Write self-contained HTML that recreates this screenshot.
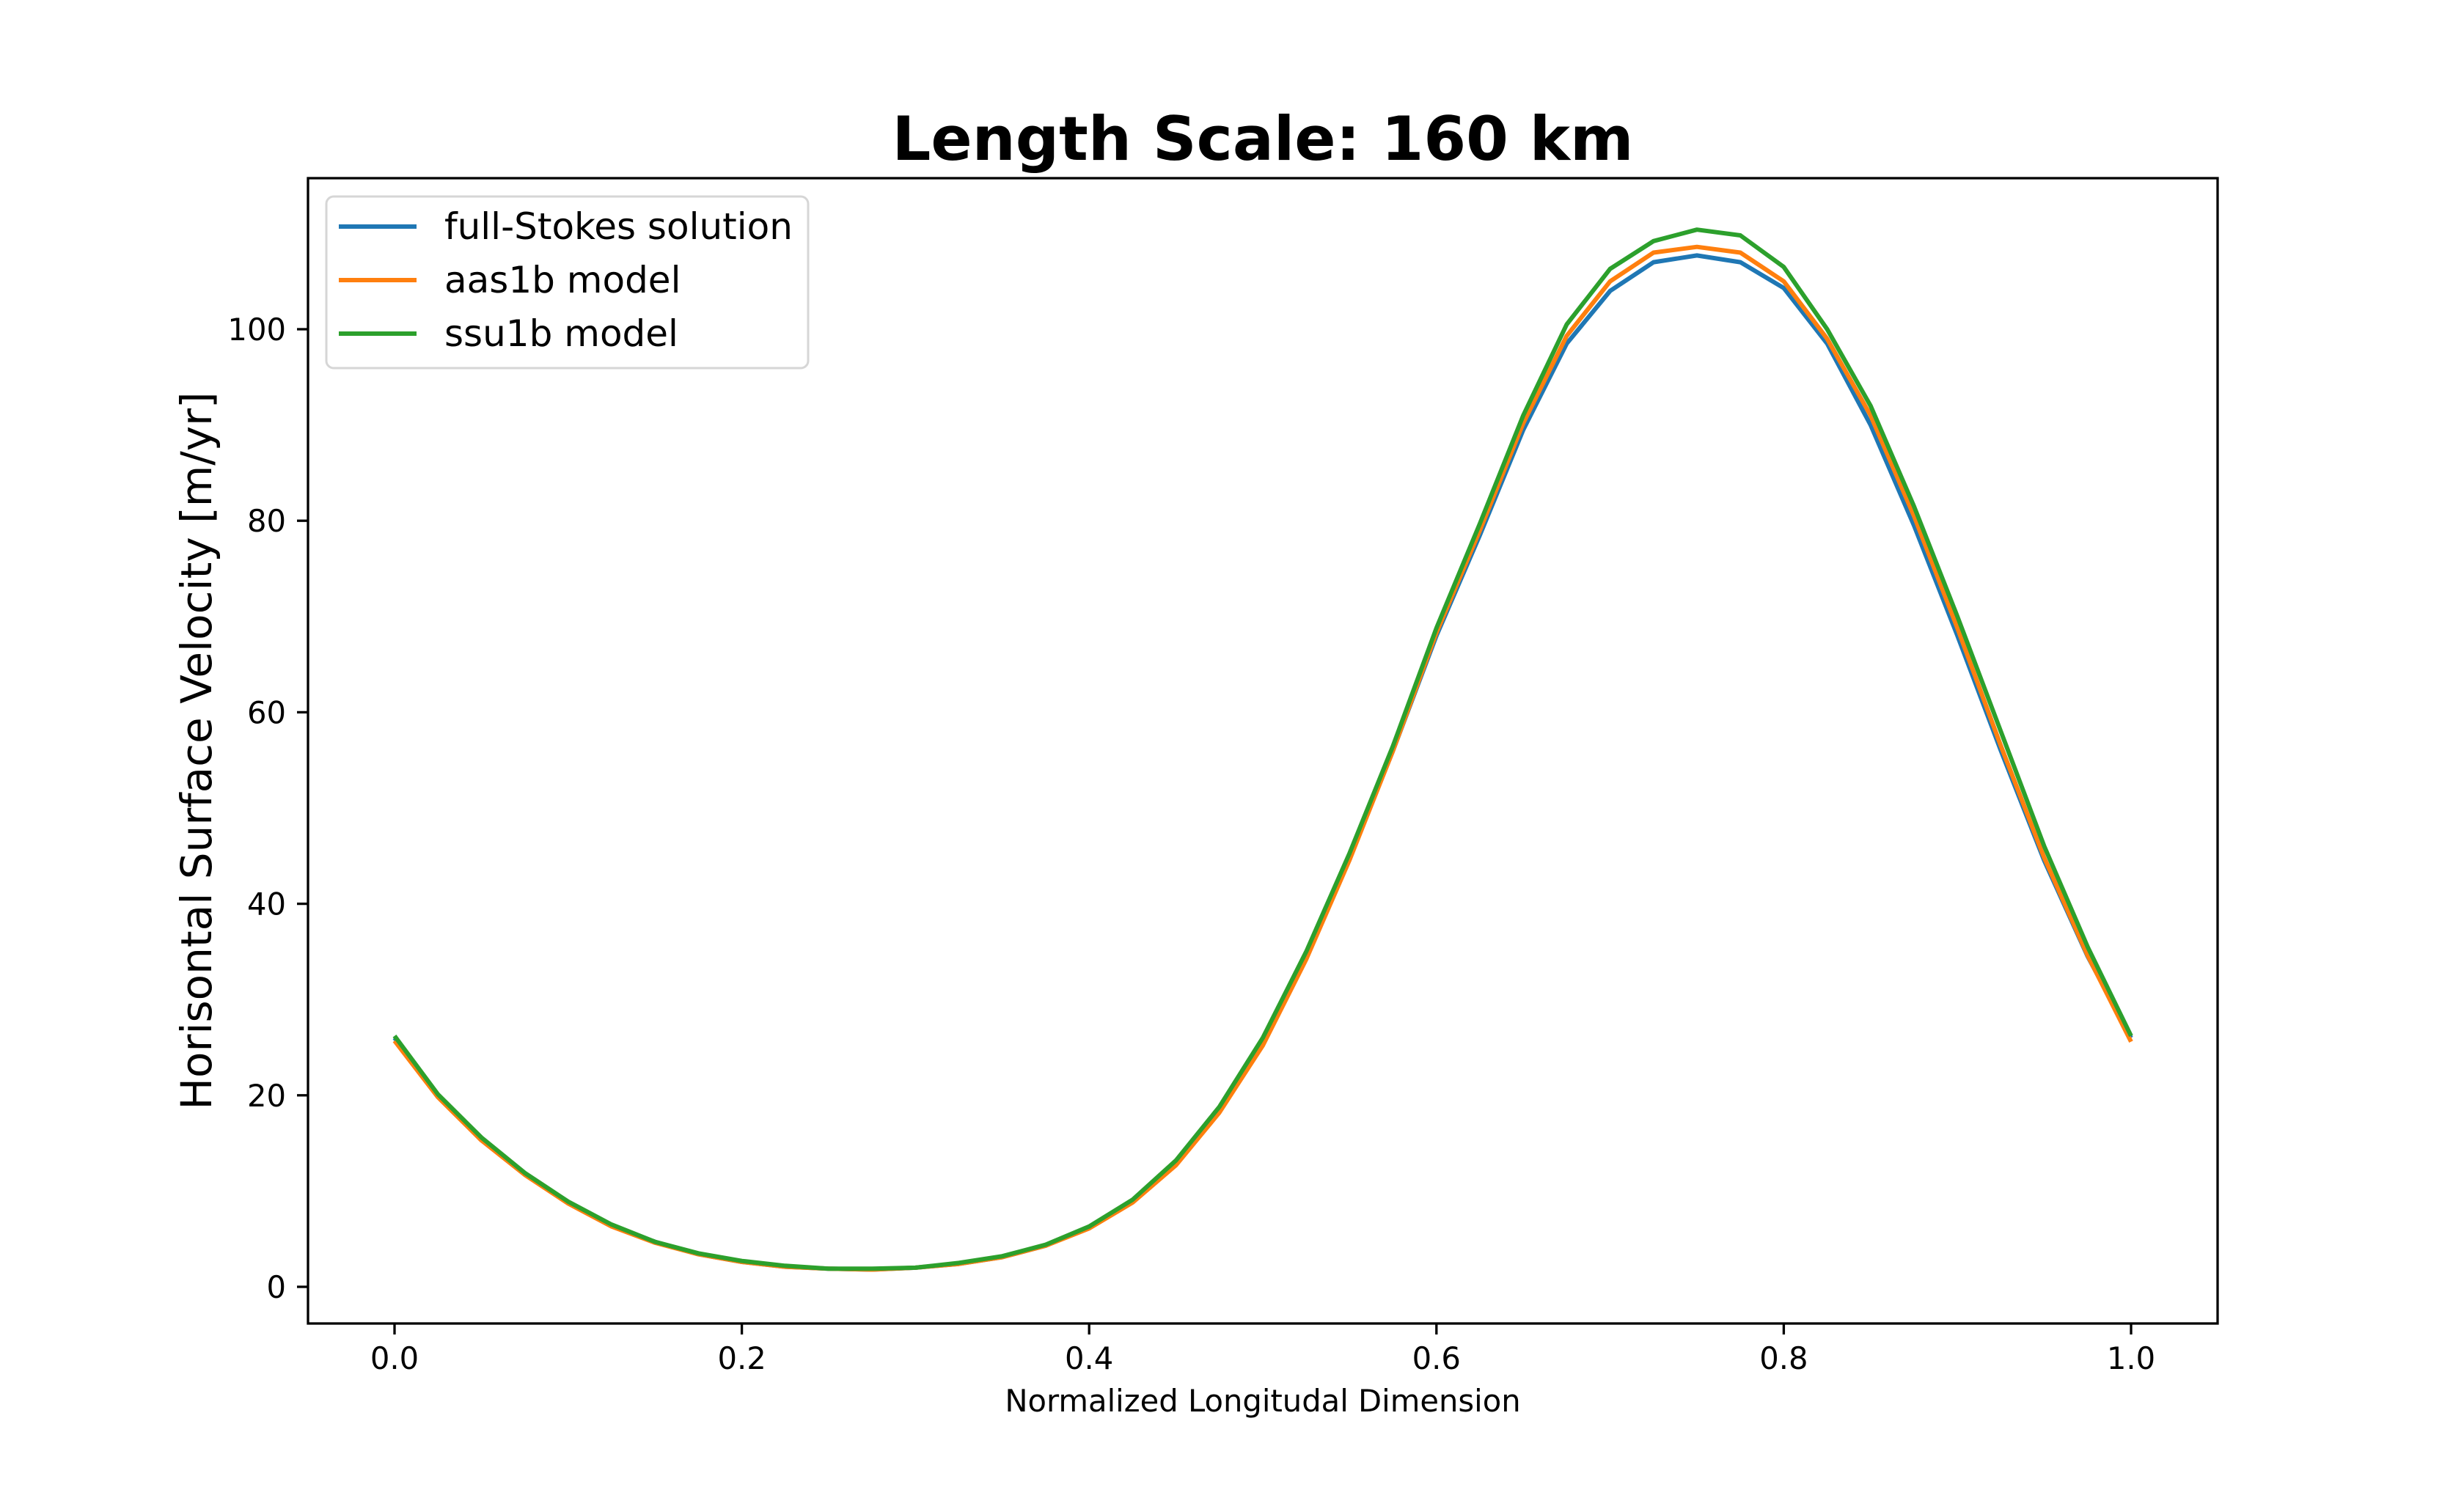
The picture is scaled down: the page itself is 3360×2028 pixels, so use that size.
<!DOCTYPE html>
<html><head><meta charset="utf-8"><style>
html,body{margin:0;padding:0;background:#fff;}
svg{display:block;font-family:"DejaVu Sans","Liberation Sans",sans-serif;}
</style></head><body>
<svg id="chart" width="3360" height="2028" viewBox="0 0 3360 2028" xmlns="http://www.w3.org/2000/svg">
<rect width="3360" height="2028" fill="#fff"/>
<text x="1722" y="218" font-size="83" font-weight="bold" text-anchor="middle">Length Scale: 160 km</text>
<g id="plot"></g>
<g id="axes"></g>
<text x="1722" y="1925" font-size="41.7" text-anchor="middle">Normalized Longitudal Dimension</text>
<text transform="translate(288,1024) rotate(-90)" font-size="58" text-anchor="middle">Horisontal Surface Velocity [m/yr]</text>
<g>
<rect x="445" y="268" width="657" height="234" rx="10" fill="#fff" fill-opacity="0.8" stroke="#d6d6d6" stroke-width="3"/>
<line x1="462" y1="309" x2="568" y2="309" stroke="#1f77b4" stroke-width="6"/>
<text x="606" y="326" font-size="50">full-Stokes solution</text>
<line x1="462" y1="382" x2="568" y2="382" stroke="#ff7f0e" stroke-width="6"/>
<text x="606" y="399" font-size="50">aas1b model</text>
<line x1="462" y1="455" x2="568" y2="455" stroke="#2ca02c" stroke-width="6"/>
<text x="606" y="472" font-size="50">ssu1b model</text>
</g>
</svg>
<script>
const xValues = [0,0.025,0.05,0.075,0.1,0.125,0.15,0.175,0.2,0.225,0.25,0.275,0.3,0.325,0.35,0.375,0.4,0.425,0.45,0.475,0.5,0.525,0.55,0.575,0.6,0.625,0.65,0.675,0.7,0.725,0.75,0.775,0.8,0.825,0.85,0.875,0.9,0.925,0.95,0.975,1.0];
const fullStokes = [26,20,15.5,11.8,8.8,6.4,4.7,3.4,2.6,2.1,1.9,1.8,2.0,2.4,3.1,4.3,6.2,9.0,13.0,18.5,25.5,34.5,44.8,56,68,78.5,89.5,98.5,104,107,107.7,107,104.3,98.5,90,79.5,68,56,44.5,34.5,26];
const aas1b = [25.7,19.8,15.3,11.7,8.7,6.3,4.6,3.4,2.6,2.1,1.9,1.8,2.0,2.4,3.1,4.3,6.1,8.8,12.7,18.2,25.2,34.2,44.6,56,68.3,79,90.2,99.3,105,108,108.6,108,105,99,91,80.5,68.8,56.5,44.8,34.6,25.6];
const ssu1b = [26.2,20.1,15.6,11.9,8.9,6.5,4.7,3.5,2.7,2.2,1.9,1.9,2.0,2.5,3.2,4.4,6.3,9.1,13.2,18.8,26,35,45.3,56.5,68.8,79.7,91,100.5,106.3,109.2,110.4,109.8,106.5,100,92,81.5,70,58,46,35.5,26.2];
const xTicks = [0,0.2,0.4,0.6,0.8,1.0];
const xTickLabels = ["0.0","0.2","0.4","0.6","0.8","1.0"];
const yTicks = [0,20,40,60,80,100];
const yTickLabels = ["0","20","40","60","80","100"];

const NS = "http://www.w3.org/2000/svg";
const L=420,R=3024,T=243,B=1805;
function xs(v){return 538 + v*2368;}
function ys(v){return 1755 - v*13.06;}
const plot=document.getElementById('plot');
const axes=document.getElementById('axes');
function mk(tag,attrs,parent){const e=document.createElementNS(NS,tag);for(const k in attrs)e.setAttribute(k,attrs[k]);parent.appendChild(e);return e;}

const series=[[fullStokes,'#1f77b4','full-stokes'],[aas1b,'#ff7f0e','aas1b'],[ssu1b,'#2ca02c','ssu1b']];
series.forEach(s=>{
  const pts=xValues.map((x,i)=>xs(x).toFixed(1)+','+ys(s[0][i]).toFixed(1)).join(' ');
  const pl=mk('polyline',{points:pts,fill:'none',stroke:s[1],'stroke-width':6,'stroke-linejoin':'round'},plot);
  
  
});

const frame=mk('rect',{x:L,y:T,width:R-L,height:B-T,fill:'none',stroke:'#000','stroke-width':3.3},axes);



xTicks.forEach((v,i)=>{
  const t=mk('line',{x1:xs(v),y1:B,x2:xs(v),y2:B+15,stroke:'#000','stroke-width':3.3},axes);
  
  
  const tx=mk('text',{x:xs(v),y:1867,'font-size':41.7,'text-anchor':'middle'},axes);
  tx.textContent=xTickLabels[i];
  
  
});
yTicks.forEach((v,i)=>{
  const t=mk('line',{x1:L-15,y1:ys(v),x2:L,y2:ys(v),stroke:'#000','stroke-width':3.3},axes);
  
  
  const tx=mk('text',{x:390,y:ys(v)+15,'font-size':41.7,'text-anchor':'end'},axes);
  tx.textContent=yTickLabels[i];
  
  
});
</script>
</body></html>
